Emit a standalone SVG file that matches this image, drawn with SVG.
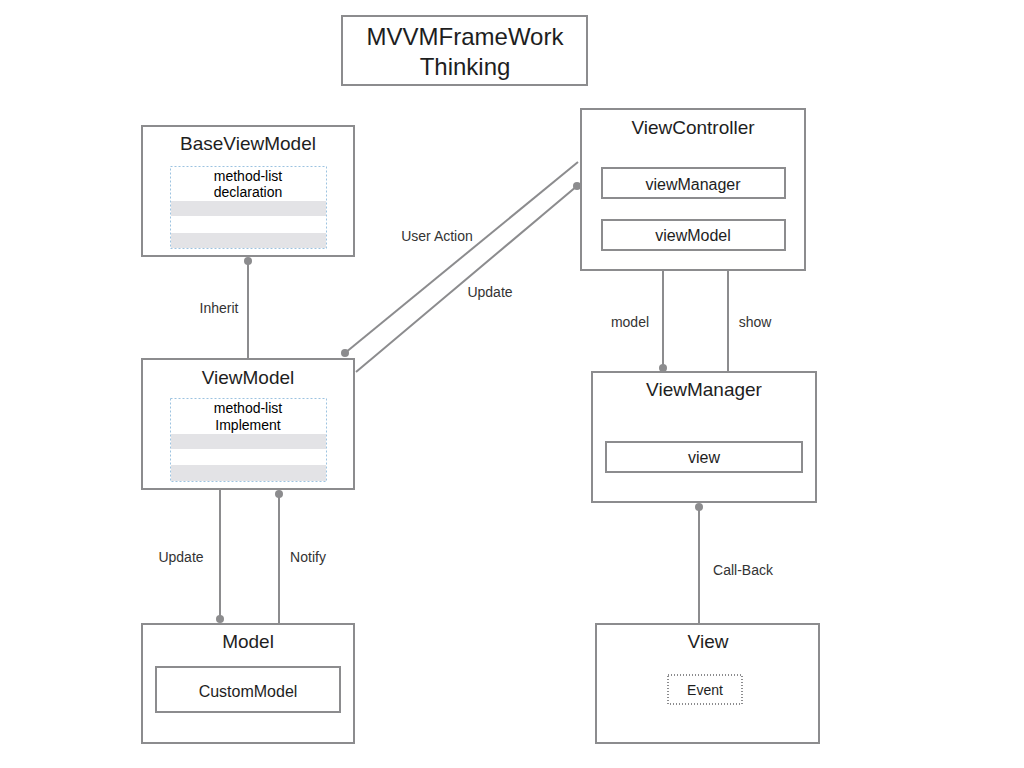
<svg xmlns="http://www.w3.org/2000/svg" width="1024" height="768" viewBox="0 0 1024 768">
<defs>
<style>
.box{fill:#fff;stroke:#8c8c8e;stroke-width:2}
.inner{fill:#fff;stroke:#8c8c8e;stroke-width:2}
.list{fill:#fff;stroke:#9cc3e0;stroke-width:1;stroke-dasharray:2 2}
.band{fill:#e3e3e6}
.title{font-family:"Liberation Sans",Arial,sans-serif;font-size:19px;fill:#1e1e1e;text-anchor:middle}
.sub{font-family:"Liberation Sans",Arial,sans-serif;font-size:16px;fill:#1e1e1e;text-anchor:middle}
.small{font-family:"Liberation Sans",Arial,sans-serif;font-size:14px;fill:#000;text-anchor:middle}
.lbl{font-family:"Liberation Sans",Arial,sans-serif;font-size:14px;fill:#333;text-anchor:middle}
.ln{stroke:#8c8c8e;stroke-width:2;fill:none}
.dot{fill:#8c8c8e}
</style>
</defs>
<rect width="1024" height="768" fill="#fff"/>
<g id="title">
<rect class="box" x="342" y="16" width="245" height="69"/>
<text class="title" x="465" y="45" style="font-size:24px">MVVMFrameWork</text>
<text class="title" x="465" y="75" style="font-size:24px">Thinking</text>
</g>
<g id="connectors">
<line class="ln" x1="248" y1="261" x2="248" y2="358"/>
<circle class="dot" cx="248" cy="261" r="4"/>
<line class="ln" x1="220" y1="489" x2="220" y2="619"/>
<circle class="dot" cx="220" cy="619" r="4"/>
<line class="ln" x1="279" y1="494" x2="279" y2="624"/>
<circle class="dot" cx="279" cy="494" r="4"/>
<line class="ln" x1="345" y1="353" x2="578" y2="162"/>
<circle class="dot" cx="345" cy="353" r="4"/>
<line class="ln" x1="356" y1="372" x2="577" y2="186"/>
<circle class="dot" cx="577" cy="186" r="4"/>
<line class="ln" x1="663" y1="250" x2="663" y2="368"/>
<circle class="dot" cx="663" cy="368" r="4"/>
<line class="ln" x1="728" y1="253" x2="728" y2="372"/>
<circle class="dot" cx="728" cy="253" r="4"/>
<line class="ln" x1="699" y1="507" x2="699" y2="624"/>
<circle class="dot" cx="699" cy="507" r="4"/>
<text class="lbl" x="219" y="313">Inherit</text>
<text class="lbl" x="181" y="562">Update</text>
<text class="lbl" x="308" y="562">Notify</text>
<text class="lbl" x="437" y="241">User Action</text>
<text class="lbl" x="490" y="297">Update</text>
<text class="lbl" x="630" y="327">model</text>
<text class="lbl" x="755" y="327">show</text>
<text class="lbl" x="743" y="575">Call-Back</text>
</g>
<g id="BaseViewModel">
<rect class="box" x="142" y="126" width="212" height="130"/>
<text class="title" x="248" y="150">BaseViewModel</text>
<rect class="list" x="170.5" y="166.5" width="156" height="82"/>
<rect class="band" x="171" y="201" width="155" height="15"/>
<rect class="band" x="171" y="233" width="155" height="15"/>
<text class="small" x="248" y="181">method-list</text>
<text class="small" x="248" y="197">declaration</text>
</g>
<g id="ViewModel">
<rect class="box" x="142" y="359" width="212" height="130"/>
<text class="title" x="248" y="384">ViewModel</text>
<rect class="list" x="170.5" y="398.5" width="156" height="83"/>
<rect class="band" x="171" y="434" width="155" height="15"/>
<rect class="band" x="171" y="465" width="155" height="16"/>
<text class="small" x="248" y="413">method-list</text>
<text class="small" x="248" y="430">Implement</text>
</g>
<g id="Model">
<rect class="box" x="142" y="624" width="212" height="119"/>
<text class="title" x="248" y="648">Model</text>
<rect class="inner" x="156" y="667" width="184" height="45"/>
<text class="sub" x="248" y="697">CustomModel</text>
</g>
<g id="ViewController">
<rect class="box" x="581" y="109" width="224" height="161"/>
<text class="title" x="693" y="134">ViewController</text>
<rect class="inner" x="602" y="168" width="183" height="30"/>
<text class="sub" x="693" y="190">viewManager</text>
<rect class="inner" x="602" y="220" width="183" height="30"/>
<text class="sub" x="693" y="241">viewModel</text>
</g>
<g id="ViewManager">
<rect class="box" x="592" y="372" width="224" height="130"/>
<text class="title" x="704" y="396">ViewManager</text>
<rect class="inner" x="606" y="442" width="196" height="30"/>
<text class="sub" x="704" y="463">view</text>
</g>
<g id="View">
<rect class="box" x="596" y="624" width="223" height="119"/>
<text class="title" x="708" y="648">View</text>
<rect x="668" y="675" width="74" height="29" fill="#fff" stroke="#8c8c8e" stroke-width="2" stroke-dasharray="1 2"/>
<text class="lbl" x="705" y="695" style="fill:#1e1e1e">Event</text>
</g>
</svg>
